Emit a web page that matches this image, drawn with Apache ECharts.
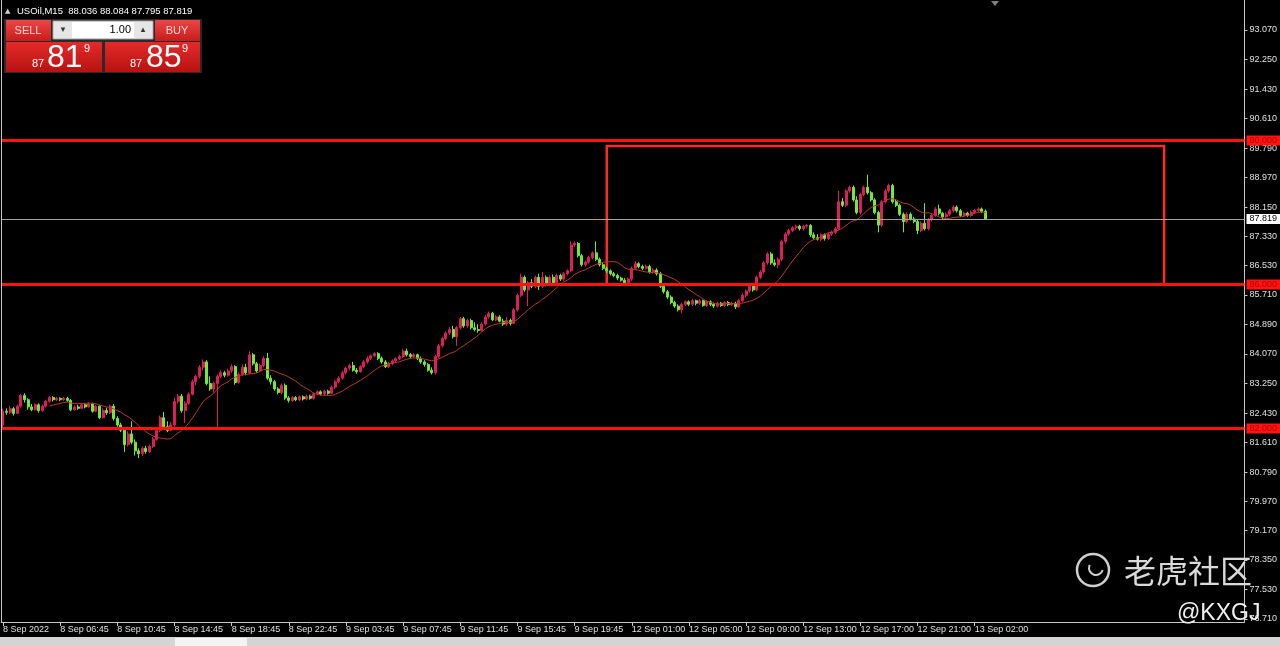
<!DOCTYPE html>
<html><head><meta charset="utf-8">
<script src="https://cdn.jsdelivr.net/npm/echarts@6/dist/echarts.min.js"></script>
<style>html,body{margin:0;padding:0;background:#000;}#c{width:1280px;height:646px;}</style>
</head><body><div id="c"></div>
<script>
// ---- data ----
const timeLabels = ["8 Sep 2022","8 Sep 06:45","8 Sep 10:45","8 Sep 14:45","8 Sep 18:45","8 Sep 22:45","9 Sep 03:45","9 Sep 07:45","9 Sep 11:45","9 Sep 15:45","9 Sep 19:45","12 Sep 01:00","12 Sep 05:00","12 Sep 09:00","12 Sep 13:00","12 Sep 17:00","12 Sep 21:00","13 Sep 02:00"];
const priceTicks = [93.07,92.25,91.43,90.61,89.79,88.97,88.15,87.33,86.53,85.71,84.89,84.07,83.25,82.43,81.61,80.79,79.97,79.17,78.35,77.53,76.71];
const levels = [90, 86, 82];
const lastPrice = 87.819;
const boxTop = 89.85, boxBottom = 86.0, boxFrom = 169, boxTo = 325;
const maPeriod = 14;
// [open, close, low, high]
const candles = [
[82.10,82.48,82.00,82.55],[82.48,82.45,82.38,82.56],[82.45,82.55,82.40,82.62],[82.55,82.42,82.36,82.60],
[82.42,82.62,82.40,82.66],[82.62,82.92,82.58,82.96],[82.92,82.80,82.72,82.98],[82.80,82.60,82.52,82.84],
[82.60,82.52,82.48,82.68],[82.52,82.66,82.50,82.70],[82.66,82.50,82.44,82.70],[82.50,82.62,82.46,82.66],
[82.62,82.76,82.58,82.80],[82.76,82.86,82.72,82.90],[82.86,82.80,82.75,82.90],[82.80,82.84,82.76,82.88],
[82.84,82.80,82.76,82.87],[82.80,82.84,82.77,82.88],[82.84,82.78,82.74,82.88],[82.78,82.52,82.48,82.82],
[82.52,82.60,82.50,82.64],[82.60,82.56,82.52,82.66],[82.56,82.66,82.54,82.70],[82.66,82.60,82.56,82.70],
[82.60,82.68,82.58,82.72],[82.68,82.48,82.44,82.72],[82.48,82.62,82.46,82.66],[82.62,82.30,82.26,82.66],
[82.30,82.50,82.28,82.56],[82.50,82.44,82.38,82.58],[82.44,82.62,82.40,82.66],[82.62,82.28,82.22,82.68],
[82.28,82.10,82.05,82.34],[82.10,81.95,81.90,82.16],[81.95,81.55,81.35,82.00],[81.55,81.85,81.50,81.92],
[81.85,81.62,81.56,82.20],[81.62,81.38,81.25,81.70],[81.38,81.30,81.18,81.45],[81.30,81.45,81.24,81.50],
[81.45,81.36,81.30,81.52],[81.36,81.50,81.32,81.55],[81.50,81.70,81.46,81.76],[81.70,81.95,81.66,82.00],
[81.95,82.30,81.90,82.36],[82.30,82.05,81.98,82.46],[82.05,81.95,81.90,82.20],[81.95,82.10,81.92,82.18],
[82.10,82.75,82.05,82.85],[82.75,82.90,82.70,82.96],[82.90,82.50,82.44,82.96],[82.50,82.70,82.15,82.76],
[82.70,82.95,82.66,83.00],[82.95,83.30,82.92,83.36],[83.30,83.45,83.20,83.50],[83.45,83.70,83.40,83.76],
[83.70,83.85,83.62,83.92],[83.85,83.25,83.20,83.90],[83.25,83.10,83.05,83.45],[83.10,83.25,83.00,83.30],
[83.25,83.45,82.04,83.50],[83.45,83.55,83.40,83.62],[83.55,83.48,83.42,83.60],[83.48,83.60,83.44,83.66],
[83.60,83.72,83.55,83.78],[83.72,83.28,83.22,83.76],[83.28,83.50,83.24,83.56],[83.50,83.70,83.46,83.78],
[83.70,83.55,83.48,83.80],[83.55,84.05,83.50,84.15],[84.05,83.80,83.75,84.10],[83.80,83.60,83.55,83.85],
[83.60,83.75,83.56,83.80],[83.75,83.95,83.70,84.00],[83.95,83.40,83.35,84.10],[83.40,83.30,83.22,83.48],
[83.30,83.10,83.05,83.35],[83.10,83.00,82.95,83.15],[83.00,83.20,82.95,83.25],[83.20,82.85,82.80,83.25],
[82.85,82.78,82.72,82.90],[82.78,82.86,82.74,82.90],[82.86,82.80,82.76,82.90],[82.80,82.88,82.76,82.92],
[82.88,82.82,82.78,82.92],[82.82,82.90,82.78,82.94],[82.90,82.84,82.80,82.94],[82.84,82.96,82.80,83.00],
[82.96,83.02,82.92,83.06],[83.02,82.96,82.92,83.06],[82.96,83.04,82.92,83.08],[83.04,82.98,82.94,83.08],
[82.98,83.15,82.95,83.20],[83.15,83.30,83.10,83.35],[83.30,83.40,83.25,83.45],[83.40,83.55,83.35,83.60],
[83.55,83.68,83.50,83.72],[83.68,83.75,83.62,83.80],[83.75,83.62,83.58,83.85],[83.62,83.58,83.52,83.68],
[83.58,83.72,83.55,83.76],[83.72,83.85,83.68,83.90],[83.85,83.95,83.80,84.00],[83.95,84.02,83.90,84.06],
[84.02,84.08,83.98,84.12],[84.08,83.95,83.90,84.12],[83.95,83.85,83.80,84.00],[83.85,83.72,83.68,83.90],
[83.72,83.80,83.68,83.85],[83.80,83.88,83.76,83.92],[83.88,83.94,83.84,83.98],[83.94,84.00,83.90,84.05],
[84.00,84.15,83.96,84.20],[84.15,84.05,84.00,84.22],[84.05,84.00,83.95,84.10],[84.00,84.05,83.96,84.10],
[84.05,83.95,83.90,84.08],[83.95,83.85,83.80,84.00],[83.85,83.78,83.72,83.90],[83.78,83.62,83.58,83.82],
[83.62,83.55,83.50,83.70],[83.55,84.00,83.50,84.05],[84.00,84.30,83.95,84.35],[84.30,84.50,84.25,84.55],
[84.50,84.65,84.45,84.70],[84.65,84.75,84.60,84.82],[84.75,84.55,84.50,84.85],[84.55,84.80,84.30,84.85],
[84.80,85.05,84.75,85.10],[85.05,84.85,84.80,85.10],[84.85,85.00,84.80,85.05],[85.00,84.80,84.75,85.05],
[84.80,84.75,84.70,84.95],[84.75,84.72,84.66,84.90],[84.72,84.90,84.70,84.95],[84.90,85.10,84.86,85.15],
[85.10,85.20,85.05,85.25],[85.20,85.02,84.98,85.24],[85.02,85.10,84.98,85.15],[85.10,84.98,84.95,85.15],
[84.98,84.90,84.85,85.05],[84.90,85.00,84.85,85.10],[85.00,84.92,84.86,85.05],[84.92,85.30,84.90,85.35],
[85.30,85.70,85.25,85.75],[85.70,86.20,85.65,86.30],[86.20,85.85,85.80,86.25],[85.85,86.05,85.40,86.10],
[86.05,85.95,85.90,86.15],[85.95,86.20,85.90,86.25],[86.20,85.95,85.85,86.30],[85.95,86.20,85.90,86.35],
[86.20,86.00,85.95,86.25],[86.00,86.20,85.95,86.25],[86.20,86.05,86.00,86.28],[86.05,86.25,86.00,86.30],
[86.25,86.15,86.10,86.30],[86.15,86.30,86.10,86.35],[86.30,86.38,86.25,86.42],[86.38,87.10,86.35,87.20],
[87.10,87.14,87.05,87.20],[87.14,86.80,86.75,87.18],[86.80,86.55,86.50,86.85],[86.55,86.62,86.50,86.66],
[86.62,86.75,86.58,86.80],[86.75,86.88,86.70,86.92],[86.88,86.70,86.65,87.20],[86.70,86.55,86.50,86.75],
[86.55,86.45,86.40,86.60],[86.45,86.38,86.32,86.50],[86.38,86.30,86.25,86.42],[86.30,86.25,86.20,86.35],
[86.25,86.18,86.12,86.30],[86.18,86.12,86.08,86.22],[86.12,86.05,86.00,86.18],[86.05,86.15,86.00,86.20],
[86.15,86.45,86.10,86.50],[86.45,86.58,86.40,86.65],[86.58,86.50,86.45,86.62],[86.50,86.45,86.40,86.55],
[86.45,86.50,86.42,86.55],[86.50,86.35,86.30,86.55],[86.35,86.40,86.30,86.45],[86.40,86.30,86.25,86.45],
[86.30,85.95,85.90,86.35],[85.95,85.80,85.75,86.00],[85.80,85.65,85.60,85.85],[85.65,85.50,85.45,85.70],
[85.50,85.40,85.35,85.55],[85.40,85.30,85.25,85.45],[85.30,85.45,85.20,85.50],[85.45,85.52,85.40,85.56],
[85.52,85.45,85.40,85.56],[85.45,85.55,85.40,85.60],[85.55,85.48,85.42,85.58],[85.48,85.55,85.44,85.60],
[85.55,85.42,85.38,85.58],[85.42,85.52,85.38,85.56],[85.52,85.45,85.40,85.56],[85.45,85.40,85.35,85.50],
[85.40,85.48,85.36,85.52],[85.48,85.42,85.38,85.52],[85.42,85.50,85.38,85.54],[85.50,85.44,85.40,85.54],
[85.44,85.48,85.40,85.52],[85.48,85.38,85.32,85.52],[85.38,85.55,85.35,85.60],[85.55,85.70,85.50,85.75],
[85.70,85.82,85.65,85.86],[85.82,85.95,85.78,86.00],[85.95,85.85,85.80,86.00],[85.85,86.20,85.82,86.25],
[86.20,86.35,86.15,86.40],[86.35,86.60,86.30,86.65],[86.60,86.85,86.55,86.90],[86.85,86.60,86.55,86.90],
[86.60,86.55,86.50,86.70],[86.55,86.70,86.45,86.75],[86.70,87.20,86.65,87.25],[87.20,87.40,87.15,87.45],
[87.40,87.50,87.35,87.55],[87.50,87.58,87.45,87.62],[87.58,87.62,87.52,87.66],[87.62,87.55,87.50,87.66],
[87.55,87.62,87.50,87.66],[87.62,87.64,87.56,87.68],[87.64,87.38,87.32,87.68],[87.38,87.30,87.25,87.45],
[87.30,87.26,87.22,87.40],[87.26,87.38,87.20,87.42],[87.38,87.28,87.22,87.42],[87.28,87.40,87.24,87.45],
[87.40,87.45,87.35,87.50],[87.45,87.55,87.40,87.60],[87.55,88.30,87.50,88.60],[88.30,88.20,88.15,88.40],
[88.20,88.60,88.15,88.65],[88.60,88.70,88.55,88.75],[88.70,88.35,88.30,88.75],[88.35,88.00,87.95,88.45],
[88.00,88.50,87.95,88.55],[88.50,88.70,88.45,88.75],[88.70,88.55,88.50,89.05],[88.55,88.35,88.30,88.60],
[88.35,88.00,87.95,88.40],[88.00,87.65,87.45,88.05],[87.65,88.30,87.60,88.35],[88.30,88.60,88.25,88.65],
[88.60,88.75,88.55,88.80],[88.75,88.30,88.25,88.80],[88.30,88.20,88.15,88.35],[88.20,87.95,87.90,88.25],
[87.95,87.75,87.45,88.00],[87.75,87.95,87.70,88.00],[87.95,87.82,87.78,88.00],[87.82,87.75,87.70,87.88],
[87.75,87.50,87.40,87.80],[87.50,87.70,87.45,87.75],[87.70,87.55,87.50,88.26],[87.55,87.80,87.50,87.85],
[87.80,87.92,87.75,87.96],[87.92,88.10,87.88,88.15],[88.10,87.98,87.92,88.22],[87.98,87.88,87.82,88.02],
[87.88,87.95,87.84,88.00],[87.95,88.05,87.90,88.10],[88.05,88.15,88.00,88.20],[88.15,88.05,88.00,88.20],
[88.05,87.92,87.88,88.10],[87.92,87.98,87.88,88.02],[87.98,87.92,87.88,88.02],[87.92,88.00,87.88,88.05],
[88.00,88.06,87.96,88.10],[88.06,88.10,88.02,88.14],[88.10,88.03,87.98,88.14],[88.036,87.819,87.795,88.084]
];

// ---- derived ----
const nSlots = 348;
const cats = Array.from({length: nSlots}, (_, i) => String(i));
const ma = candles.map((c, i) => {
  if (i < maPeriod - 1) return '-';
  let s = 0;
  for (let k = i - maPeriod + 1; k <= i; k++) s += candles[k][1];
  return +(s / maPeriod).toFixed(4);
});
const UP = '#dc1e5a', DOWN = '#74e836';
const axisFont = 'Liberation Sans';
const labelIdx = idx => idx % 16 === 0 && idx / 16 < timeLabels.length;

const chart = echarts.init(document.getElementById('c'), null, {renderer: 'canvas'});
const redLevelLines = levels.map(v => ({
  yAxis: v,
  lineStyle: {color: '#ff1414', width: 3, type: 'solid'},
  label: {show: true, position: 'end', distance: 2, formatter: v.toFixed(3),
    backgroundColor: '#ff1414', color: '#b80000', fontSize: 9, fontFamily: axisFont,
    padding: [1, 3, 0, 3]}
}));
const priceLine = {
  yAxis: lastPrice,
  lineStyle: {color: '#a0a0a0', width: 1, type: 'solid'},
  label: {show: true, position: 'end', distance: 2, formatter: lastPrice.toFixed(3),
    backgroundColor: '#ffffff', color: '#000000', fontSize: 9, fontFamily: axisFont,
    padding: [1, 3, 0, 3]}
};

const g = [];
function txt(x, y, text, font, fill, align, valign) {
  g.push({type: 'text', z: 100, style: {x, y, text, font, fill, textAlign: align || 'left', textVerticalAlign: valign || 'middle'}});
}
function grad(a, b) {
  return new echarts.graphic.LinearGradient(0, 0, 0, 1, [{offset: 0, color: a}, {offset: 1, color: b}]);
}
// left frame line
g.push({type: 'line', z: 50, shape: {x1: 1.5, y1: 0, x2: 1.5, y2: 622}, style: {stroke: '#c8c8c8', lineWidth: 1}});
// header
txt(5, 11, '▲', '7px "DejaVu Sans"', '#d0d0d0');
txt(17, 11, 'USOil,M15  88.036 88.084 87.795 87.819', '9.5px "Liberation Sans"', '#ffffff');
// one-click panel
g.push({type: 'rect', z: 99, shape: {x: 4, y: 19, width: 198, height: 54}, style: {fill: '#2a2a2a'}});
g.push({type: 'rect', z: 100, shape: {x: 6, y: 20, width: 45, height: 21}, style: {fill: grad('#ec4646', '#c81c1c')}});
g.push({type: 'rect', z: 100, shape: {x: 155, y: 20, width: 45, height: 21}, style: {fill: grad('#ec4646', '#c81c1c')}});
g.push({type: 'rect', z: 100, shape: {x: 53, y: 21, width: 100, height: 18}, style: {fill: '#ffffff', stroke: '#9a9a9a', lineWidth: 1}});
g.push({type: 'rect', z: 100, shape: {x: 54, y: 22, width: 18, height: 16}, style: {fill: '#e6e6e6'}});
g.push({type: 'rect', z: 100, shape: {x: 134, y: 22, width: 18, height: 16}, style: {fill: '#e6e6e6'}});
txt(63, 30, '▾', '9px "DejaVu Sans"', '#333333', 'center');
txt(143, 30, '▴', '9px "DejaVu Sans"', '#333333', 'center');
txt(131, 30, '1.00', '11px "Liberation Sans"', '#000000', 'right');
txt(28, 31, 'SELL', '11px "Liberation Sans"', '#ffd6d6', 'center');
txt(177, 31, 'BUY', '11px "Liberation Sans"', '#ffd6d6', 'center');
g.push({type: 'rect', z: 100, shape: {x: 6, y: 42, width: 96, height: 30}, style: {fill: grad('#e42a2a', '#b81212')}});
g.push({type: 'rect', z: 100, shape: {x: 105, y: 42, width: 95, height: 30}, style: {fill: grad('#e42a2a', '#b81212')}});
txt(32, 64, '87', '11px "Liberation Sans"', '#ffffff');
txt(47, 58, '81', '32px "Liberation Sans"', '#ffffff');
txt(84, 49, '9', '11px "Liberation Sans"', '#ffffff');
txt(130, 64, '87', '11px "Liberation Sans"', '#ffffff');
txt(146, 58, '85', '32px "Liberation Sans"', '#ffffff');
txt(182, 49, '9', '11px "Liberation Sans"', '#ffffff');
// shift marker
g.push({type: 'polygon', z: 100, shape: {points: [[991, 1], [999, 1], [995, 6]]}, style: {fill: '#808080'}});
// watermark
g.push({type: 'circle', z: 100, shape: {cx: 1093, cy: 570, r: 16}, style: {fill: 'none', stroke: '#d0d0d0', lineWidth: 2.5}});
g.push({type: 'arc', z: 100, shape: {cx: 1096, cy: 568, r: 7, startAngle: 0.3, endAngle: 3.6}, style: {fill: 'none', stroke: '#d0d0d0', lineWidth: 2}});
txt(1124, 571, '老虎社区', '32px "Noto Sans CJK SC"', '#dadada');
txt(1177, 614, '@KXGJ', '23px "Liberation Sans"', '#f2f2f2');
// bottom tab strip
g.push({type: 'rect', z: 100, shape: {x: 0, y: 637, width: 1280, height: 9}, style: {fill: '#d4d4d4'}});
g.push({type: 'rect', z: 100, shape: {x: 175, y: 638, width: 72, height: 8}, style: {fill: '#f4f4f4'}});

chart.setOption({
  backgroundColor: '#000000',
  animation: false,
  grid: {left: 1, right: 34, top: 0, bottom: 24, show: false},
  xAxis: {
    type: 'category', data: cats, boundaryGap: true,
    axisLine: {show: true, lineStyle: {color: '#c8c8c8', width: 1}},
    axisTick: {show: true, alignWithLabel: true, interval: labelIdx, length: 4, lineStyle: {color: '#c8c8c8'}},
    axisLabel: {show: true, interval: labelIdx, align: 'left', margin: 3, color: '#e0e0e0', fontSize: 9, fontFamily: axisFont,
      formatter: (v, idx) => timeLabels[idx / 16] || ''},
    splitLine: {show: false}
  },
  yAxis: {
    type: 'value', position: 'right', min: 76.626, max: 93.903, scale: true,
    axisLine: {show: true, lineStyle: {color: '#c8c8c8', width: 1}},
    axisTick: {show: true, length: 3, customValues: priceTicks, lineStyle: {color: '#c8c8c8'}},
    axisLabel: {show: true, customValues: priceTicks, margin: 5, color: '#e0e0e0', fontSize: 9, fontFamily: axisFont,
      formatter: v => v.toFixed(3)},
    splitLine: {show: false}
  },
  series: [
    {
      type: 'candlestick', data: candles, barWidth: 2.5,
      itemStyle: {color: UP, color0: DOWN, borderColor: UP, borderColor0: DOWN, borderWidth: 1},
      markLine: {silent: true, symbol: ['none', 'none'], animation: false, data: [...redLevelLines, priceLine]},
      markArea: {silent: true, data: [[
        {xAxis: String(boxFrom), yAxis: boxTop, itemStyle: {color: 'rgba(0,0,0,0)', borderColor: '#ff2a2a', borderWidth: 2.5}},
        {xAxis: String(boxTo), yAxis: boxBottom}
      ]]}
    },
    {
      type: 'line', data: ma, symbol: 'none', smooth: false,
      lineStyle: {color: '#b83a2a', width: 1}, z: 3
    }
  ],
  graphic: g
});
</script>
</body></html>
